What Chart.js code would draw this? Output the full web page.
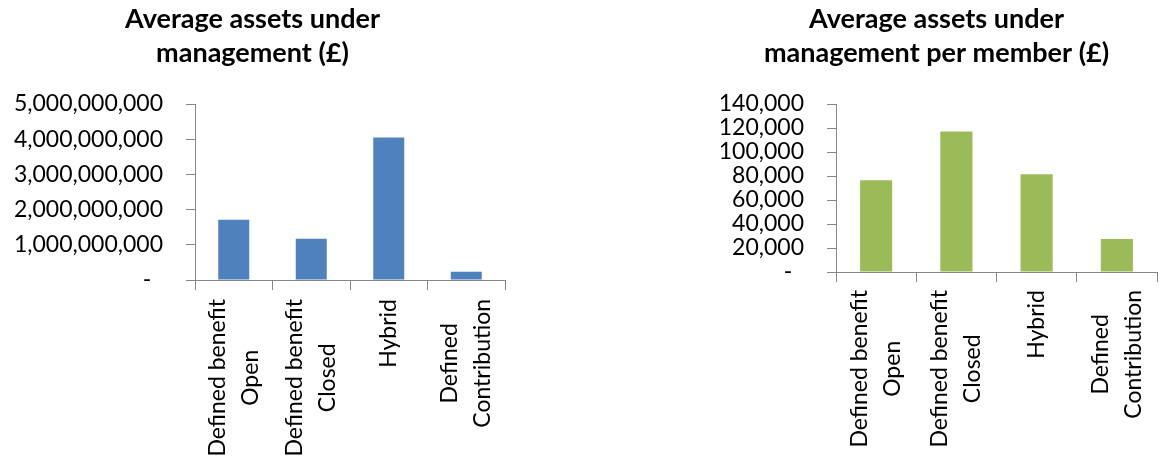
<!DOCTYPE html>
<html>
<head>
<meta charset="utf-8">
<title>Average assets under management</title>
<script src="https://cdn.jsdelivr.net/npm/chart.js@4/dist/chart.umd.min.js"></script>
<style>
  html, body { margin: 0; padding: 0; background: #fff; }
  body { position: relative; width: 1161px; height: 467px; overflow: hidden; }
  canvas { position: absolute; top: 0; }
  #assetsChart { left: 0; }
  #perMemberChart { left: 716px; }
</style>
</head>
<body>
<canvas id="assetsChart" width="513" height="467"></canvas>
<canvas id="perMemberChart" width="445" height="467"></canvas>
<script>
// scheme types, shared by both charts
const categories = [
  ["Defined benefit", "Open"],
  ["Defined benefit", "Closed"],
  ["Hybrid"],
  ["Defined", "Contribution"]
];

// average assets under management (£)
const assetsTitle = ["Average assets under", "management (£)"];
const assetsValues = [1710000000, 1170000000, 4050000000, 235000000];
const assetsMax = 5000000000;
const assetsStep = 1000000000;

// average assets under management per member (£)
const perMemberTitle = ["Average assets under", "management per member (£)"];
const perMemberValues = [76500, 117000, 81500, 27500];
const perMemberMax = 140000;
const perMemberStep = 20000;

const FONT = "Lato";
const AXIS_GREY = "#878787";
const fmt = new Intl.NumberFormat("en-GB");

// Category labels turned on their side, lines centred on each other
const rotatedLabels = {
  id: "rotatedLabels",
  afterDraw(chart, args, opts) {
    const scale = chart.scales.x;
    const ctx = chart.ctx;
    ctx.save();
    ctx.font = `${opts.size}px ${FONT}`;
    ctx.fillStyle = "#000";
    ctx.textAlign = "center";
    ctx.textBaseline = "middle";
    chart.data.labels.forEach((lines, i) => {
      const w = Math.max(...lines.map(l => ctx.measureText(l).width));
      ctx.save();
      ctx.translate(scale.getPixelForTick(i), scale.top + opts.gap);
      ctx.rotate(-Math.PI / 2);
      lines.forEach((line, j) => {
        ctx.fillText(line, -w / 2, (j - (lines.length - 1) / 2) * opts.lineHeight);
      });
      ctx.restore();
    });
    ctx.restore();
  }
};

function makeChart(id, cfg) {
  return new Chart(document.getElementById(id), {
    type: "bar",
    data: {
      labels: categories,
      datasets: [{
        data: cfg.values,
        backgroundColor: cfg.color,
        borderWidth: 0,
        barPercentage: 0.4,
        categoryPercentage: 1
      }]
    },
    plugins: [rotatedLabels],
    options: {
      responsive: false,
      animation: false,
      layout: { padding: { left: 0, right: cfg.padRight, top: 0, bottom: 0 } },
      plugins: {
        legend: { display: false },
        tooltip: { enabled: false },
        title: {
          display: true,
          text: cfg.title,
          color: "#000",
          font: { family: FONT, size: 27, weight: "bold", lineHeight: 34 / 27 },
          padding: { top: 2, bottom: 34 }
        },
        rotatedLabels: { size: 23, gap: cfg.labelGap, lineHeight: 33 }
      },
      scales: {
        x: {
          afterFit: s => { s.height = cfg.xHeight; },
          border: { display: true, color: AXIS_GREY, width: 1 },
          grid: { drawOnChartArea: false, drawTicks: true, tickLength: 10, color: AXIS_GREY },
          ticks: { display: false }
        },
        y: {
          min: 0,
          max: cfg.max,
          afterFit: s => { s.width = cfg.yWidth; },
          border: { display: true, color: AXIS_GREY, width: 1 },
          grid: { drawOnChartArea: false, drawTicks: true, tickLength: 9, color: AXIS_GREY },
          ticks: {
            stepSize: cfg.step,
            autoSkip: false,
            color: "#000",
            padding: 23,
            font: { family: FONT, size: 23 },
            callback: v => (v === 0 ? "-  " : fmt.format(v))
          }
        }
      }
    }
  });
}

makeChart("assetsChart", {
  title: assetsTitle,
  values: assetsValues,
  max: assetsMax,
  step: assetsStep,
  color: "#4F81BD",
  yWidth: 195,
  xHeight: 187,
  padRight: 8,
  labelGap: 19
});

makeChart("perMemberChart", {
  title: perMemberTitle,
  values: perMemberValues,
  max: perMemberMax,
  step: perMemberStep,
  color: "#9BBB59",
  yWidth: 120,
  xHeight: 195,
  padRight: 4,
  labelGap: 18
});
</script>
</body>
</html>
